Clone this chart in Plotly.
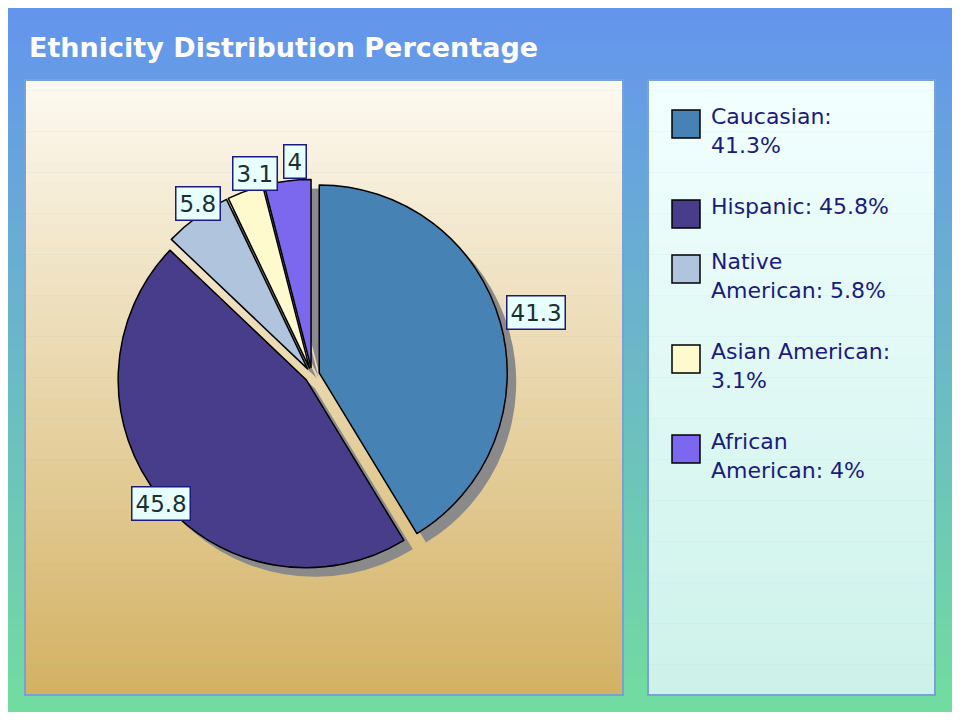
import plotly.graph_objects as go
import math

labels = ["Caucasian", "Hispanic", "Native American", "Asian American", "African American"]
values = [41.3, 45.8, 5.8, 3.1, 4]
colors = ["#4682b4", "#483d8b", "#b0c4de", "#fffacd", "#7b68ee"]
legend_text = ["Caucasian:<br>41.3%", "Hispanic: 45.8%", "Native<br>American: 5.8%",
               "Asian American:<br>3.1%", "African<br>American: 4%"]
legend_tops = [110, 200, 255, 345, 435]

OFF = 8
W, H = 960 - 2*OFF, 720 - 2*OFF
def px(x): return (x - OFF) / W
def py(y): return 1 - (y - OFF) / H

def lerp(c1, c2, t):
    a = [int(c1[i:i+2], 16) for i in (1, 3, 5)]
    b = [int(c2[i:i+2], 16) for i in (1, 3, 5)]
    return "rgb(%d,%d,%d)" % tuple(round(a[k] + (b[k]-a[k])*t) for k in range(3))

shapes = []
def gradient(x0, y0, x1, y1, ctop, cbot, n=60, line=None):
    for i in range(n):
        ya = y0 + (y1-y0)*i/n
        yb = y0 + (y1-y0)*(i+1)/n + 0.5
        shapes.append(dict(type="rect", xref="paper", yref="paper", x0=px(x0), x1=px(x1),
                           y0=py(ya), y1=py(min(yb, y1)), fillcolor=lerp(ctop, cbot, i/(n-1)),
                           line=dict(width=0), layer="below"))
    if line:
        shapes.append(dict(type="rect", xref="paper", yref="paper", x0=px(x0), x1=px(x1),
                           y0=py(y0), y1=py(y1), line=dict(color=line, width=2), layer="below"))

gradient(OFF, OFF, 960-OFF, 720-OFF, "#6495ed", "#72dca0")
gradient(25, 80, 623, 695, "#fdf9f0", "#d4b264", line="#7aa0d8")
gradient(648, 80, 935, 695, "#f2ffff", "#cdf2ea", line="#7aa0d8")

cx, cy, r = 312, 375, 188
pull = 0.04
s = r * (1 + pull)
fig = go.Figure()
fig.add_trace(go.Pie(values=values, sort=False, direction="clockwise", rotation=0,
                     marker=dict(colors=["#8a8a8a"]*5, line=dict(width=0)),
                     pull=[pull]*5, textinfo="none", hoverinfo="skip", showlegend=False,
                     domain=dict(x=[px(cx+9-s), px(cx+9+s)], y=[py(cy+9+s), py(cy+9-s)])))
fig.add_trace(go.Pie(labels=labels, values=values, sort=False, direction="clockwise", rotation=0,
                     marker=dict(colors=colors, line=dict(color="black", width=1.5)),
                     pull=[pull]*5, textinfo="none", showlegend=False,
                     domain=dict(x=[px(cx-s), px(cx+s)], y=[py(cy+s), py(cy-s)])))

annotations = [dict(text="<b>Ethnicity Distribution Percentage</b>", x=px(27), y=py(48), xref="paper",
                    yref="paper", xanchor="left", yanchor="middle", showarrow=False,
                    font=dict(family="DejaVu Sans", size=27, color="white"))]
total = sum(values)
cum = 0
for v in values:
    mid = (cum + v/2) / total * 2*math.pi
    cum += v
    rr = r * 1.24
    lx = cx + rr*math.sin(mid)
    ly = cy - rr*math.cos(mid)
    annotations.append(dict(text=f"{v:g}", x=px(lx), y=py(ly), xref="paper", yref="paper",
                            showarrow=False, bgcolor="#e8ffff", bordercolor="#1a1a80",
                            borderwidth=1.5, borderpad=3,
                            font=dict(family="DejaVu Sans", size=23, color="#1a3030")))

for t, c, top in zip(legend_text, colors, legend_tops):
    shapes.append(dict(type="rect", xref="paper", yref="paper", x0=px(672), x1=px(700),
                       y0=py(top), y1=py(top+28), fillcolor=c, line=dict(color="black", width=1.5)))
    annotations.append(dict(text=t, x=px(709), y=py(top-8), xref="paper", yref="paper",
                            xanchor="left", yanchor="top", align="left", showarrow=False,
                            font=dict(family="DejaVu Sans", size=22, color="#1a1a80")))

fig.update_layout(width=W, height=H, margin=dict(l=0, r=0, t=0, b=0), shapes=shapes,
                  annotations=annotations, paper_bgcolor="#6fa8e0")
fig.write_html("out.html")
